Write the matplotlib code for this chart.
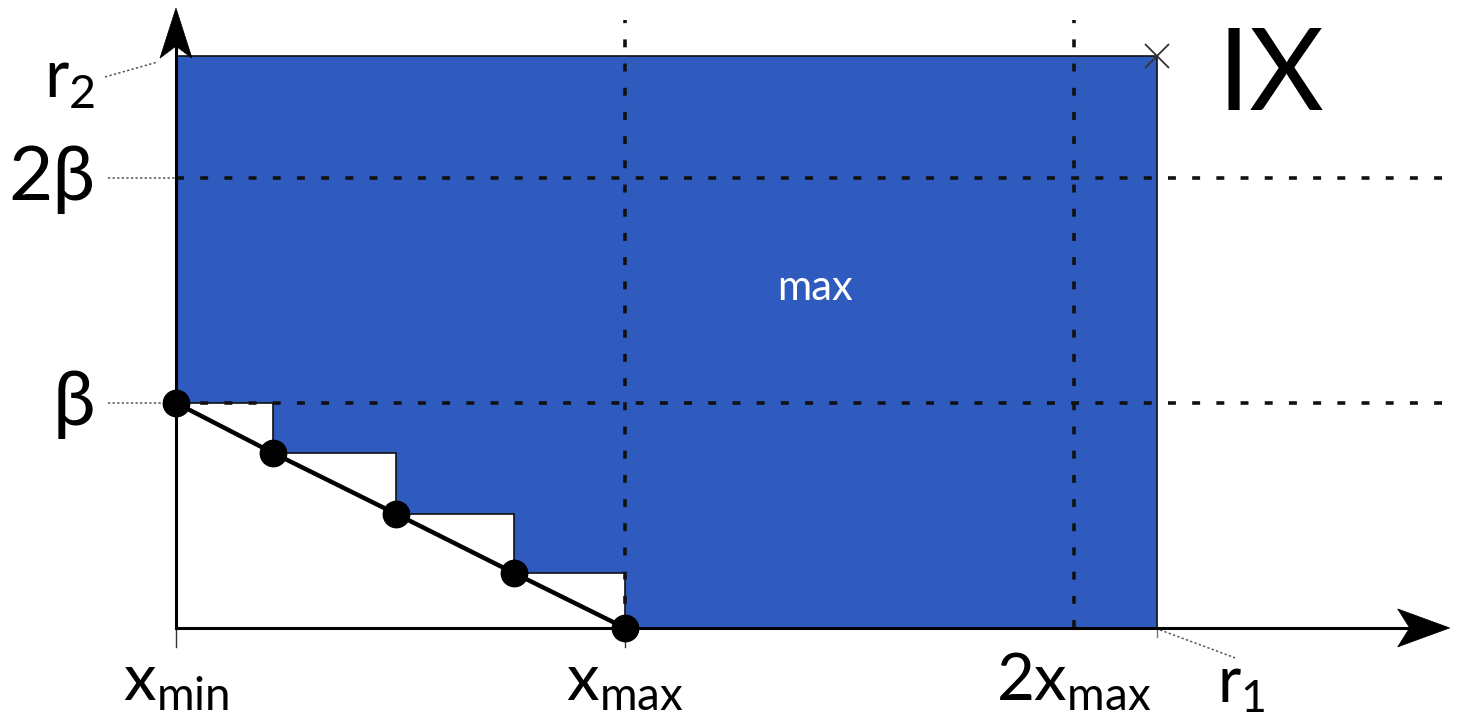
import matplotlib
matplotlib.use("Agg")
import matplotlib.pyplot as plt
import matplotlib.patches as patches
import matplotlib.transforms as mtransforms

plt.rcParams['font.family'] = ['Lato', 'DejaVu Sans']
plt.rcParams['mathtext.fontset'] = 'custom'
plt.rcParams['mathtext.rm'] = 'Lato'

# staircase points along the diagonal from (x_min, beta) to (x_max, 0)
step_x = [0.0, 0.216, 0.49, 0.753, 1.0]
step_y = [1.0, 0.778, 0.507, 0.244, 0.0]

# region bounds (units of x_max and beta)
r1_max = 2.185
r2_max = 2.54
grid_x = [1.0, 2.0]
grid_y = [1.0, 2.0]

x_ticks = [0.0, 1.0, 2.0]
x_labels = [r'$\mathrm{x}_{\mathrm{min}}$', r'$\mathrm{x}_{\mathrm{max}}$', r'$\mathrm{2x}_{\mathrm{max}}$']
y_ticks = [1.0, 2.0]
y_labels = ['β', '2β']

BLUE = '#305bbe'


def draw_arrowhead(ax, tip, angle, length=50, half_width=19, notch=38):
    # arrowhead polygon in pixels, pinned at a data point
    verts = [(0, 0), (-length, half_width), (-notch, 0), (-length, -half_width)]
    trans = (mtransforms.Affine2D().rotate_deg(angle).scale(1.0 / 100)
             + ax.figure.dpi_scale_trans
             + mtransforms.ScaledTranslation(tip[0], tip[1], ax.transData))
    head = patches.Polygon(verts, closed=True, facecolor='black', edgecolor='black',
                           lw=0.5, transform=trans, zorder=6)
    ax.add_patch(head)


fig = plt.figure(figsize=(14.6, 7.15), dpi=100)
ax = fig.add_axes([0, 0, 1, 1])
ax.set_xlim(-0.392, 2.860)
ax.set_ylim(-0.387, 2.791)
ax.axis('off')

# blue region above the staircase
verts = [(0, r2_max), (r1_max, r2_max), (r1_max, 0), (step_x[-1], 0)]
for i in range(len(step_x) - 1, 0, -1):
    verts.append((step_x[i], step_y[i - 1]))
    verts.append((step_x[i - 1], step_y[i - 1]))
region = patches.Polygon(verts, closed=True, facecolor=BLUE, edgecolor='#111111', lw=1.2, zorder=1)
ax.add_patch(region)

# dashed grid
for gx in grid_x:
    ax.plot([gx, gx], [0, 2.70], color='#111111', lw=2.6, dashes=(2.2, 4.5), zorder=3)
for gy in grid_y:
    ax.plot([0, 2.826], [gy, gy], color='#111111', lw=2.6, dashes=(2.2, 4.5), zorder=3)

# axes with arrows
ax.plot([0, 2.80], [0, 0], color='black', lw=2.2, zorder=5)
ax.plot([0, 0], [0, 2.68], color='black', lw=2.2, zorder=5)
draw_arrowhead(ax, (2.837, 0), 0, length=52, half_width=19, notch=40)
draw_arrowhead(ax, (0, 2.755), 90, length=50, half_width=16, notch=38)

# diagonal with points
ax.plot(step_x, step_y, color='black', lw=3.2, zorder=7)
ax.plot(step_x, step_y, 'o', color='black', ms=19, zorder=8)

# corner cross
ax.plot([r1_max], [r2_max], marker='x', color='#333333', ms=17, mew=1.3, zorder=6)

# small ticks under the x axis
for tx in x_ticks[:2]:
    ax.plot([tx, tx], [0, -0.085], color='#333333', lw=1.0, zorder=4)
ax.plot([r1_max, r1_max], [0, -0.04], color='#777777', lw=1.0, zorder=4)

# dotted leaders
leader = dict(color='#555555', lw=1.1, ls=(0, (1.5, 1.5)), zorder=4)
ax.plot([-0.151, 0], [2.0, 2.0], **leader)
ax.plot([-0.151, -0.025], [1.0, 1.0], **leader)
ax.plot([-0.158, -0.040], [2.449, 2.516], **leader)
ax.plot([r1_max + 0.007, 2.359], [-0.009, -0.133], **leader)

# labels
for tx, lab in zip(x_ticks, x_labels):
    ax.text(tx, -0.32, lab, fontsize=47, ha='center', va='baseline', color='black')
for ty, lab in zip(y_ticks, y_labels):
    ax.text(-0.18, ty - 0.1, lab, fontsize=55, ha='right', va='baseline', color='black')
ax.text(-0.18, 2.356, r'$\mathrm{r}_{2}$', fontsize=48, ha='right', va='baseline', color='black')
ax.text(2.318, -0.33, r'$\mathrm{r}_{1}$', fontsize=46, ha='left', va='baseline', color='black')
ax.text(2.32, 2.302, 'IX', fontsize=83, ha='left', va='baseline', color='black')
ax.text(1.423, 1.511, 'max', fontsize=30, ha='center', va='center', color='white', zorder=9)

fig.savefig('out.png', dpi=100)
